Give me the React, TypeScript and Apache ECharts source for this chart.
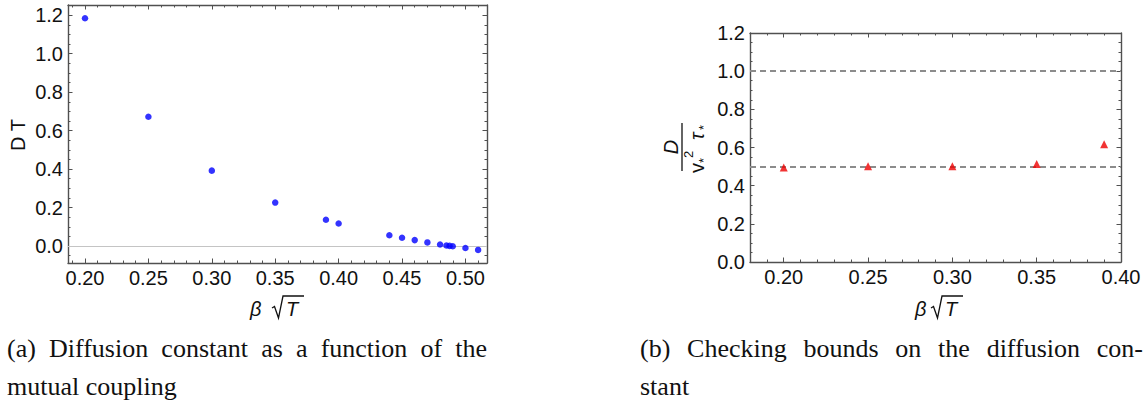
import React, { useEffect, useRef } from "react";
import * as echarts from "echarts";

// ---- data ----
const couplingA = [0.2, 0.25, 0.3, 0.35, 0.39, 0.4, 0.44, 0.45, 0.46, 0.47, 0.48, 0.485, 0.4875, 0.49, 0.5, 0.51];
const diffusionA = [1.184, 0.672, 0.392, 0.226, 0.137, 0.117, 0.056, 0.043, 0.031, 0.019, 0.008, 0.003, 0.001, -0.001, -0.01, -0.02];

const couplingB = [0.2, 0.25, 0.3, 0.35, 0.39];
const ratioB = [0.495, 0.502, 0.502, 0.513, 0.617];
const boundsB = [1.0, 0.5];

// ---- tick labels ----
const xMajorA = [0.2, 0.25, 0.3, 0.35, 0.4, 0.45, 0.5];
const yMajorA = [0, 0.2, 0.4, 0.6, 0.8, 1.0, 1.2];
const xMajorB = [0.2, 0.25, 0.3, 0.35, 0.4];
const yMajorB = [0, 0.2, 0.4, 0.6, 0.8, 1.0, 1.2];

const captionA = ["(a) Diffusion constant as a function of the", "mutual coupling"];
const captionB = ["(b) Checking bounds on the diffusion con-", "stant"];

function steps(from: number, to: number, step: number): number[] {
  const out: number[] = [];
  const n = Math.round((to - from) / step);
  for (let i = 0; i <= n; i++) out.push(Math.round((from + i * step) * 10000) / 10000);
  return out;
}

const FRAME = "#505050";
const SANS = "'Liberation Sans', Arial, sans-serif";
const SERIF = "'Liberation Serif', 'Times New Roman', serif";
const CAPTION_FONT = `26px ${SERIF}`;
const LABEL_SIZE = 20;

function frameAxes(
  dim: "x" | "y",
  gridIndex: number,
  min: number,
  max: number,
  major: number[],
  minor: number[],
  digits: number
) {
  const sides = dim === "x" ? ["bottom", "top"] : ["left", "right"];
  const axes: any[] = [];
  sides.forEach((pos, si) => {
    axes.push({
      type: "value",
      gridIndex,
      position: pos,
      min,
      max,
      axisLine: { show: true, onZero: false, lineStyle: { color: FRAME, width: 1.4 } },
      axisTick: { show: true, inside: true, length: 4.5, customValues: major, lineStyle: { color: FRAME, width: 1 } },
      axisLabel: {
        show: si === 0,
        customValues: major,
        formatter: (v: number) => v.toFixed(digits),
        fontFamily: "Liberation Sans",
        fontSize: LABEL_SIZE,
        color: "#111",
        margin: 5,
      },
      splitLine: { show: false },
      minorTick: { show: false },
    });
    axes.push({
      type: "value",
      gridIndex,
      position: pos,
      min,
      max,
      axisLine: { show: false, onZero: false },
      axisTick: { show: true, inside: true, length: 2.5, customValues: minor, lineStyle: { color: FRAME, width: 1 } },
      axisLabel: { show: false },
      splitLine: { show: false },
    });
  });
  return axes;
}

function sqrtLabel(cx: number, top: number, gapBeta: number) {
  return {
    type: "group",
    children: [
      {
        type: "text",
        x: cx - 27 + gapBeta,
        y: top + 13,
        style: { text: "β", font: `italic 20px ${SANS}`, fill: "#111", align: "left", verticalAlign: "middle" },
      },
      {
        type: "polyline",
        shape: {
          points: [
            [cx - 5, top + 12],
            [cx - 2.5, top + 10.5],
            [cx + 1.5, top + 22],
            [cx + 6, top],
            [cx + 27, top],
          ],
        },
        style: { stroke: "#111", lineWidth: 1.3, fill: "none" },
      },
      {
        type: "text",
        x: cx + 9,
        y: top + 12.5,
        style: { text: "T", font: `italic 20px ${SANS}`, fill: "#111", align: "left", verticalAlign: "middle" },
      },
    ],
  };
}

let measureCtx: CanvasRenderingContext2D | null = null;
function textWidth(s: string, font: string): number {
  if (!measureCtx) measureCtx = document.createElement("canvas").getContext("2d");
  if (!measureCtx) return s.length * 10;
  measureCtx.font = font;
  return measureCtx.measureText(s).width;
}

// a caption line, justified to a given width when width > 0
function captionLine(text: string, x: number, y: number, width: number) {
  if (width <= 0) {
    return {
      type: "text",
      x,
      y,
      style: { text, font: CAPTION_FONT, fill: "#111", align: "left", verticalAlign: "middle" },
    };
  }
  const words = text.split(" ");
  const widths = words.map((w) => textWidth(w, CAPTION_FONT));
  const total = widths.reduce((a, b) => a + b, 0);
  const gap = (width - total) / (words.length - 1);
  let cx = x;
  const children = words.map((w, i) => {
    const el = {
      type: "text",
      x: cx,
      y,
      style: { text: w, font: CAPTION_FONT, fill: "#111", align: "left", verticalAlign: "middle" },
    };
    cx += widths[i] + gap;
    return el;
  });
  return { type: "group", children };
}

export default function App() {
  const ref = useRef<HTMLDivElement>(null);

  useEffect(() => {
    if (!ref.current) return;
    const chart = echarts.init(ref.current, undefined, { renderer: "svg" });

    const xMinorA = steps(0.19, 0.51, 0.01);
    const yMinorA = steps(-0.05, 1.25, 0.05);
    const xMinorB = steps(0.18, 0.4, 0.01);
    const yMinorB = steps(0, 1.2, 0.05);

    const xAxes = [
      ...frameAxes("x", 0, 0.1866, 0.517, xMajorA, xMinorA, 2),
      ...frameAxes("x", 1, 0.18, 0.4, xMajorB, xMinorB, 2),
    ];
    const yAxes = [
      ...frameAxes("y", 0, -0.088, 1.253, yMajorA, yMinorA, 1),
      ...frameAxes("y", 1, 0, 1.2, yMajorB, yMinorB, 1),
    ];

    const option: any = {
      animation: false,
      backgroundColor: "#ffffff",
      grid: [
        { left: 68, top: 5, width: 419, height: 258, containLabel: false, outerBoundsMode: "none" },
        { left: 750, top: 33, width: 371, height: 229, containLabel: false, outerBoundsMode: "none" },
      ],
      xAxis: xAxes,
      yAxis: yAxes,
      series: [
        {
          type: "scatter",
          xAxisIndex: 0,
          yAxisIndex: 0,
          data: couplingA.map((x, i) => [x, diffusionA[i]]),
          symbol: "circle",
          symbolSize: 6.5,
          itemStyle: { color: "#0000ff" },
          z: 5,
          markLine: {
            silent: true,
            symbol: ["none", "none"],
            label: { show: false },
            lineStyle: { color: "#c4c4c4", type: "solid", width: 1 },
            data: [{ yAxis: 0 }],
            z: 1,
          },
        },
        {
          type: "scatter",
          xAxisIndex: 4,
          yAxisIndex: 4,
          data: couplingB.map((x, i) => [x, ratioB[i]]),
          symbol: "triangle",
          symbolSize: 8,
          itemStyle: { color: "#ee0000" },
          z: 5,
          markLine: {
            silent: true,
            symbol: ["none", "none"],
            label: { show: false },
            lineStyle: { color: "#8c8c8c", type: [6, 4], width: 2 },
            data: boundsB.map((v) => ({ yAxis: v })),
            z: 1,
          },
        },
      ],
      graphic: [
        {
          type: "text",
          x: 18,
          y: 135,
          rotation: Math.PI / 2,
          style: { text: "D T", font: `20px ${SANS}`, fill: "#111", align: "center", verticalAlign: "middle" },
        },
        sqrtLabel(277, 296, 0),
        sqrtLabel(936, 296, 6),
        {
          type: "group",
          x: 684,
          y: 147,
          rotation: Math.PI / 2,
          children: [
            {
              type: "text",
              x: 0,
              y: -13,
              style: { text: "D", font: `italic 20px ${SANS}`, fill: "#111", align: "center", verticalAlign: "middle" },
            },
            { type: "line", shape: { x1: -24, y1: -2, x2: 24, y2: -2 }, style: { stroke: "#111", lineWidth: 1.3 } },
            {
              type: "text",
              x: -26,
              y: 13,
              style: { text: "v", font: `20px ${SANS}`, fill: "#111", align: "left", verticalAlign: "middle" },
            },
            {
              type: "text",
              x: -16,
              y: 19,
              style: { text: "*", font: `13px ${SANS}`, fill: "#111", align: "left", verticalAlign: "middle" },
            },
            {
              type: "text",
              x: -11,
              y: 4,
              style: { text: "2", font: `13px ${SANS}`, fill: "#111", align: "left", verticalAlign: "middle" },
            },
            {
              type: "text",
              x: 7,
              y: 13,
              style: { text: "τ", font: `italic 20px ${SANS}`, fill: "#111", align: "left", verticalAlign: "middle" },
            },
            {
              type: "text",
              x: 17,
              y: 19,
              style: { text: "*", font: `13px ${SANS}`, fill: "#111", align: "left", verticalAlign: "middle" },
            },
          ],
        },
        captionLine(captionA[0], 7, 348, 480),
        captionLine(captionA[1], 7, 386, 0),
        captionLine(captionB[0], 640, 348, 503),
        captionLine(captionB[1], 640, 386, 0),
      ],
    };

    chart.setOption(option);
    return () => chart.dispose();
  }, []);

  return (
    <div
      ref={ref}
      style={{ position: "absolute", left: 0, top: 0, width: 1148, height: 412, background: "#fff" }}
    />
  );
}
